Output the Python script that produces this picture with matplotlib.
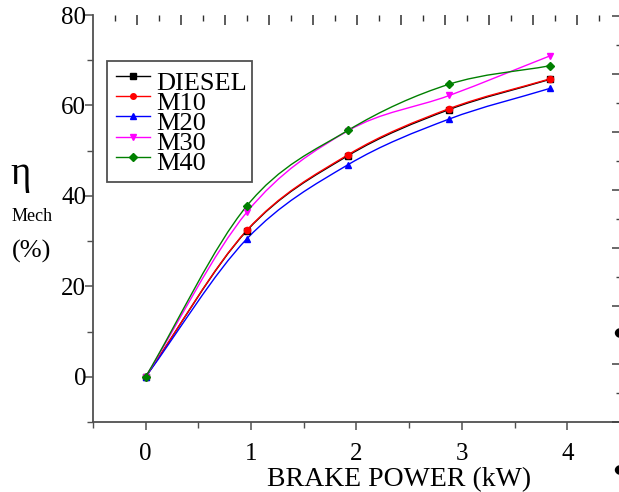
import numpy as np
import matplotlib.pyplot as plt
from matplotlib.path import Path
from matplotlib.patches import PathPatch, Circle, Rectangle

plt.rcParams['font.family'] = ['Liberation Serif', 'DejaVu Serif']

# brake power (kW)
power = [0, 0.96, 1.92, 2.88, 3.84]

# mechanical efficiency (%)
diesel = [0, 32.3, 48.9, 59.1, 65.8]
m10 = [0, 32.4, 49.1, 59.3, 65.9]
m20 = [0, 30.5, 46.9, 57.0, 63.8]
m30 = [0, 36.4, 54.4, 62.2, 71.0]
m40 = [0, 37.8, 54.5, 64.7, 68.8]

labels = ['DIESEL', 'M10', 'M20', 'M30', 'M40']
colors = ['black', 'red', 'blue', 'magenta', 'green']
markers = ['s', 'o', '^', 'v', 'D']
series = [diesel, m10, m20, m30, m40]


def smooth_path(xs, ys):
    # catmull-rom through the measured points, drawn as bezier pieces
    pts = np.column_stack([xs, ys]).astype(float)
    ext = np.vstack([2 * pts[0] - pts[1], pts, 2 * pts[-1] - pts[-2]])
    verts = [pts[0]]
    codes = [Path.MOVETO]
    for i in range(1, len(ext) - 2):
        p0, p1, p2, p3 = ext[i - 1], ext[i], ext[i + 1], ext[i + 2]
        verts += [p1 + (p2 - p0) / 6, p2 - (p3 - p1) / 6, p2]
        codes += [Path.CURVE4] * 3
    return Path(verts, codes)


fig = plt.figure(figsize=(6.19, 4.92), dpi=100)
ax = fig.add_axes([0.1502, 0.1423, 0.8514, 0.8272])

for ys, c, mk in zip(series, colors, markers):
    ax.add_patch(PathPatch(smooth_path(power, ys), facecolor='none',
                           edgecolor=c, lw=1.0, zorder=2))
    ax.plot(power, ys, linestyle='none', marker=mk, color=c,
            markersize=4.5, zorder=3)

ax.set_xlim(-0.5, 4.5)
ax.set_ylim(-10, 80)
ax.set_xticks([0, 1, 2, 3, 4])
ax.set_xticks(np.arange(-0.5, 4.6, 0.5), minor=True)
ax.set_yticks([0, 20, 40, 60, 80])
ax.set_yticks(np.arange(-10, 81, 10), minor=True)

spine_c = '#505050'
for s in ['top', 'right']:
    ax.spines[s].set_visible(False)
for s in ['left', 'bottom']:
    ax.spines[s].set_color(spine_c)
    ax.spines[s].set_linewidth(1.3)

ax.tick_params(axis='both', which='major', labelsize=18, color=spine_c,
               width=1.1, length=6)
ax.tick_params(axis='both', which='minor', color=spine_c, width=1.0, length=4)
ax.tick_params(axis='y', which='major', pad=-1)
ax.tick_params(axis='x', which='major', pad=9)

ax.set_xlabel('BRAKE POWER (kW)', fontsize=20)
ax.xaxis.set_label_coords(0.58, -0.112)

# y label pieces
ax.text(-0.137, 0.607, 'η', transform=ax.transAxes, fontsize=28,
        ha='center', va='center')
ax.text(-0.116, 0.504, 'Mech', transform=ax.transAxes, fontsize=13,
        ha='center', va='center')
ax.text(-0.116, 0.420, '(%)', transform=ax.transAxes, fontsize=19,
        ha='center', va='center')

# tick rows left over from neighbouring panels
top = ax.twiny()
top.set_xlim(0, 11.98)
top.set_xticks(np.arange(1, 12, 1))
top.set_xticks(np.arange(0.5, 12, 1), minor=True)
top.tick_params(axis='x', which='major', direction='in', length=7,
                width=1.1, color='#303030', labeltop=False)
top.tick_params(axis='x', which='minor', direction='in', length=4,
                width=1.0, color='#303030')
right = top.twinx()
right.set_ylim(0, 7.02)
right.set_yticks(np.arange(0, 8, 1))
right.set_yticks(np.arange(0.5, 7, 1), minor=True)
right.tick_params(axis='y', which='major', direction='in', length=6,
                  width=1.1, color='#404040', labelright=False)
right.tick_params(axis='y', which='minor', direction='in', length=3,
                  width=1.0, color='#404040')
for a in [top, right]:
    for s in a.spines.values():
        s.set_visible(False)

for yy in [333, 470]:
    fig.patches.append(Circle((621 / 619, 1 - yy / 492), 5.5 / 619,
                              transform=fig.transFigure, color='black'))

# legend box (axes fraction)
lx0, lx1 = (107 - 93) / 527, (252 - 93) / 527
ly0, ly1 = (422 - 182) / 407, (422 - 61) / 407
ax.add_patch(Rectangle((lx0, ly0), lx1 - lx0, ly1 - ly0, transform=ax.transAxes,
                       facecolor='white', edgecolor=spine_c, lw=1.3, zorder=5))
hx0, hx1, hxm = (116 - 93) / 527, (150 - 93) / 527, (133 - 93) / 527
tx = (156 - 93) / 527
for i, (lab, c, mk) in enumerate(zip(labels, colors, markers)):
    hy = (422 - (76 + 20.2 * i)) / 407
    ax.plot([hx0, hx1], [hy, hy], color=c, lw=1, transform=ax.transAxes,
            zorder=6)
    ax.plot([hxm], [hy], marker=mk, color=c, markersize=4,
            transform=ax.transAxes, zorder=6)
    ax.text(tx, hy - 7.5 / 407, lab, transform=ax.transAxes, fontsize=19,
            ha='left', va='center', zorder=6)

fig.savefig('out.png', dpi=100)
